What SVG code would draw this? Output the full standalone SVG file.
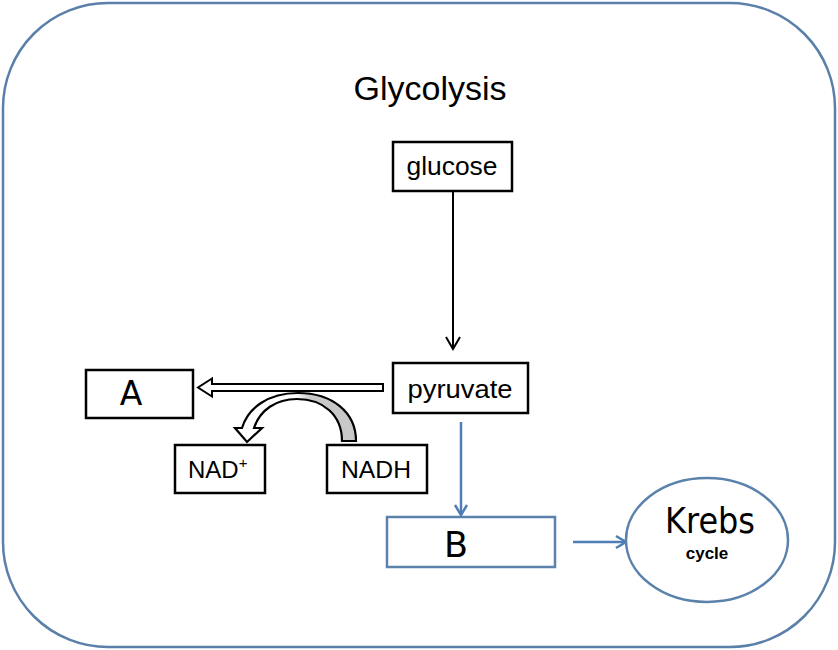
<svg xmlns="http://www.w3.org/2000/svg" width="838" height="650" viewBox="0 0 838 650">
<style>
.box{fill:#fff;stroke:#000;stroke-width:2.5}
.bbox{fill:#fff;stroke:#5a82ab;stroke-width:2.5}
.t{font-family:"Liberation Sans","Open Sans",sans-serif;fill:#000}
.hand{font-family:"DejaVu Sans","Liberation Sans",sans-serif;fill:#000}
.blk{stroke:#000;stroke-width:2;fill:none}
.blu{stroke:#4f7db5;stroke-width:2.5;fill:none}
</style>
<defs>
<linearGradient id="g" x1="236" y1="0" x2="356" y2="0" gradientUnits="userSpaceOnUse">
<stop offset="0" stop-color="#fff"/>
<stop offset="0.5" stop-color="#fff"/>
<stop offset="0.62" stop-color="#c8c8c8"/>
<stop offset="1" stop-color="#c8c8c8"/>
</linearGradient>
</defs>
<rect x="3" y="3" width="832" height="644" rx="105" ry="105" fill="#fff" stroke="#5a80aa" stroke-width="2.5"/>
<text class="t" x="430" y="100" font-size="34" text-anchor="middle" textLength="153" lengthAdjust="spacingAndGlyphs">Glycolysis</text>

<g id="connectors">
<line class="blk" x1="453" y1="191" x2="453" y2="349"/>
<polyline class="blk" points="446,337 453,349 460,337" stroke-width="2.5"/>
<path d="M383 384 L212 384 L212 378.5 L198 387.5 L212 396.5 L212 391 L383 391 Z" fill="#fff" stroke="#000" stroke-width="2"/>
<path d="M356 441 C356 412 332 393 298 393 C268 393 248 408 242 428 L235 428 L247 442 L262 428 L254 428 C260 410 276 399 297 399 C323 399 342 415 342 441 Z" fill="url(#g)" stroke="#000" stroke-width="2.2" stroke-linejoin="miter"/>
<line class="blu" x1="461" y1="422" x2="461" y2="515"/>
<polyline class="blu" points="455,505 461,515 467,505"/>
<line class="blu" x1="573" y1="542" x2="626" y2="542"/>
<polyline class="blu" points="616,536 626,542 616,548"/>
</g>

<g id="glucose">
<rect class="box" x="393" y="142" width="119" height="49"/>
<text class="t" x="452" y="175" font-size="25" text-anchor="middle" textLength="91" lengthAdjust="spacingAndGlyphs">glucose</text>
</g>
<g id="pyruvate">
<rect class="box" x="393" y="363" width="135" height="50"/>
<text class="t" x="460" y="398" font-size="25" text-anchor="middle" textLength="105" lengthAdjust="spacingAndGlyphs">pyruvate</text>
</g>
<g id="A">
<rect class="box" x="86" y="370" width="107" height="48"/>
<text class="hand" x="131" y="405" font-size="33" text-anchor="middle">A</text>
</g>
<g id="NADplus">
<rect class="box" x="175" y="445" width="90" height="48"/>
<text class="t" x="188" y="478" font-size="24">NAD<tspan font-size="15" dy="-10">+</tspan></text>
</g>
<g id="NADH">
<rect class="box" x="327" y="445" width="100" height="48"/>
<text class="t" x="376" y="478" font-size="24" text-anchor="middle" textLength="70" lengthAdjust="spacingAndGlyphs">NADH</text>
</g>
<g id="B">
<rect class="bbox" x="387" y="517" width="168" height="50"/>
<text class="hand" x="456" y="557" font-size="35" text-anchor="middle">B</text>
</g>
<g id="krebs">
<ellipse cx="707" cy="540" rx="81" ry="62" fill="#fff" stroke="#5a82ab" stroke-width="2.5"/>
<text class="hand" x="710" y="533" font-size="35" text-anchor="middle" textLength="90" lengthAdjust="spacingAndGlyphs">Krebs</text>
<text class="t" x="707" y="559" font-size="17" font-weight="bold" text-anchor="middle">cycle</text>
</g>
</svg>
